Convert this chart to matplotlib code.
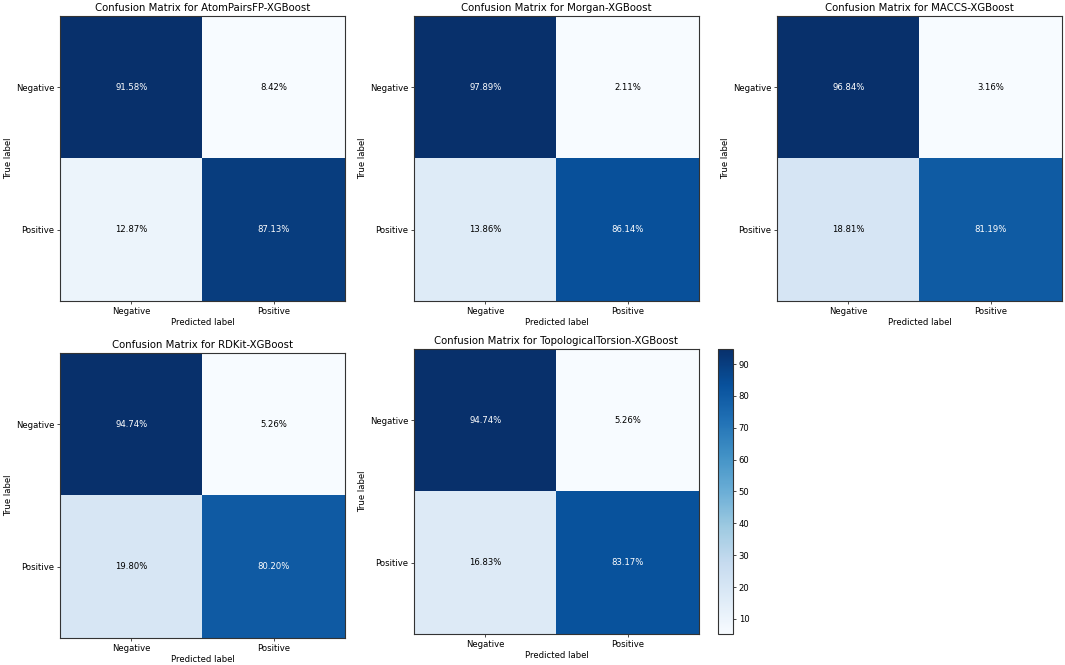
import numpy as np
import matplotlib
matplotlib.use('Agg')
import matplotlib.pyplot as plt

# confusion matrices in percent, rows = true label, cols = predicted label
model_names = ['AtomPairsFP', 'Morgan', 'MACCS', 'RDKit', 'TopologicalTorsion']
cm_atompairs = [[91.58, 8.42], [12.87, 87.13]]
cm_morgan = [[97.89, 2.11], [13.86, 86.14]]
cm_maccs = [[96.84, 3.16], [18.81, 81.19]]
cm_rdkit = [[94.74, 5.26], [19.80, 80.20]]
cm_torsion = [[94.74, 5.26], [16.83, 83.17]]
class_names = ['Negative', 'Positive']

matrices = [cm_atompairs, cm_morgan, cm_maccs, cm_rdkit, cm_torsion]

W, H = 1065, 665
fig = plt.figure(figsize=(W / 100, H / 100), dpi=100)


def px_axes(left, top, width, height):
    return fig.add_axes([left / W, (H - top - height) / H, width / W, height / H])


# axes boxes in pixels (left, top, width, height)
boxes = [(60, 16, 285, 285), (414, 16, 285, 285), (777, 16, 285, 285),
         (60, 353, 285, 285), (414, 349, 285, 285)]

fs = 6.1
for name, cm, box in zip(model_names, matrices, boxes):
    ax = px_axes(*box)
    cm = np.array(cm)
    im = ax.imshow(cm, interpolation='nearest', cmap=plt.cm.Blues, aspect='auto')
    ax.set_title('Confusion Matrix for %s-XGBoost' % name, fontsize=7.3, pad=3.5)
    ticks = np.arange(len(class_names))
    ax.set_xticks(ticks)
    ax.set_xticklabels(class_names, fontsize=fs)
    ax.set_yticks(ticks)
    ax.set_yticklabels(class_names, fontsize=fs)
    ax.set_xlabel('Predicted label', fontsize=fs, labelpad=2)
    ax.set_ylabel('True label', fontsize=fs, labelpad=2)
    ax.tick_params(length=2.1, width=0.5, pad=2)
    for s in ax.spines.values():
        s.set_linewidth(0.8)
        s.set_color('#333333')
    thresh = cm.max() / 2.
    for i in range(cm.shape[0]):
        for j in range(cm.shape[1]):
            ax.text(j, i, '%.2f%%' % cm[i, j], ha='center', va='center', fontsize=fs,
                    color='white' if cm[i, j] > thresh else 'black')

# colorbar of the last matrix
cax = px_axes(718, 349, 15, 285)
cb = fig.colorbar(im, cax=cax)
cb.ax.tick_params(labelsize=fs, length=2.1, width=0.5, pad=2)
cb.outline.set_linewidth(0.8)
cb.outline.set_edgecolor('#333333')

plt.savefig('out.png', dpi=100)
